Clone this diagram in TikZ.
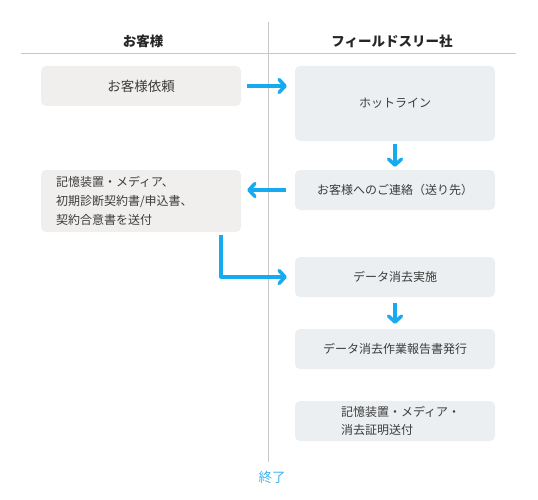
\documentclass[tikz,border=0pt]{standalone}
\usepackage{fontspec}
\setmainfont{Noto Sans CJK JP}
\usetikzlibrary{arrows.meta}
\definecolor{leftfill}{HTML}{F1EFED}
\definecolor{rightfill}{HTML}{ECEFF1}
\definecolor{arrowblue}{HTML}{16AAF0}
\definecolor{endblue}{HTML}{3DB4F0}
\definecolor{sepgray}{HTML}{C8C8C8}
\definecolor{textgray}{HTML}{3C3C3C}
\tikzset{
  box/.style={rectangle, rounded corners=5pt, minimum width=200pt, inner sep=0pt,
    text=textgray, font=\fontsize{12}{19}\selectfont},
  lbox/.style={box, fill=leftfill},
  rbox/.style={box, fill=rightfill},
  head/.style={font=\fontsize{13.5}{16}\selectfont\bfseries, text=black!85},
  arr/.style={draw=arrowblue, line width=3.5pt, line join=round,
    -{Straight Barb[length=6pt,width=13pt,line cap=round,line join=round]}},
  sep/.style={draw=sepgray, line width=1pt}
}
\begin{document}
\begin{tikzpicture}[x=1pt,y=-1pt]
\useasboundingbox (0,0) rectangle (538,500);
% separators
\coordinate (vtop) at (268.5,22);
\coordinate (vbot) at (268.5,462);
\coordinate (hl) at (21,54);
\coordinate (hr) at (516,54);
\draw[sep] (vtop) -- (vbot);
\draw[sep] (hl) -- (hr);
% headers
\node[head] (hcust) at (143,41) {お客様};
\node[head] (hcomp) at (392,41) {フィールドスリー社};
% boxes
\node[lbox, minimum height=40pt, font=\fontsize{13.5}{16}\selectfont] (req) at (141,86) {お客様依頼};
\node[rbox, minimum height=75pt] (hot) at (395,103.5) {ホットライン};
\node[rbox, minimum height=40pt] (contact) at (395,190) {お客様へのご連絡（送り先）};
\node[lbox, minimum height=62pt, text width=170pt, align=left] (docs) at (141,201) {記憶装置・メディア、\\初期診断契約書/申込書、\\契約合意書を送付};
\node[rbox, minimum height=40pt] (data) at (395,277) {データ消去実施};
\node[rbox, minimum height=40pt] (report) at (395,349) {データ消去作業報告書発行};
\node[rbox, minimum height=40pt, text width=108pt, align=left, font=\fontsize{12}{18}\selectfont] (cert) at (395,421) {記憶装置・メディア・\\消去証明送付};
\node[font=\fontsize{13.5}{16}\selectfont, text=endblue] (end) at (272,477) {終了};
% arrows
\draw[arr, shorten <=6pt, shorten >=8pt] (req.east) -- (req.east -| hot.west);
\draw[arr, shorten <=3pt, shorten >=3pt] (hot.south) -- (contact.north);
\draw[arr, shorten <=9pt, shorten >=6pt] (contact.west) -- (contact.west -| docs.east);
\coordinate (elbow) at ([xshift=-20pt]docs.south east);
\draw[arr, shorten <=3pt, shorten >=8pt] (elbow) |- (data.west);
\draw[arr, shorten <=6pt, shorten >=5pt] (data.south) -- (report.north);
\end{tikzpicture}
\end{document}
